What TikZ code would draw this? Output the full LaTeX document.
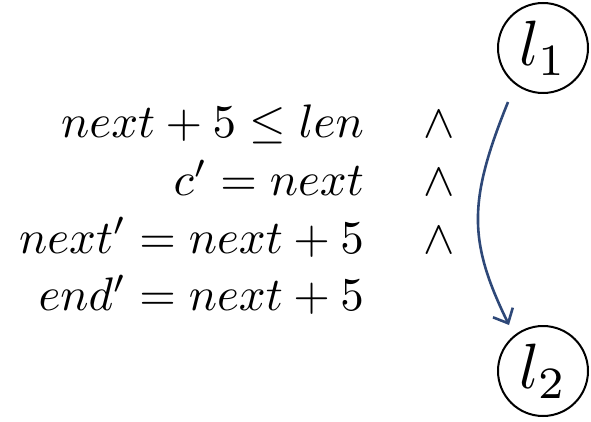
\documentclass[tikz,border=0pt]{standalone}
\usepackage{graphicx}
\usetikzlibrary{arrows.meta,calc}
\definecolor{arrowblue}{RGB}{46,72,120}
\newcommand{\bigf}[1]{\scalebox{4.7}{$#1$}}
\newcommand{\locf}[1]{\scalebox{6.4}{$#1$}}
\begin{document}
\begin{tikzpicture}[x=1pt,y=1pt,
  formula/.style={anchor=base east,inner sep=0pt},
  conj/.style={anchor=base,inner sep=0pt},
  loc/.style={circle,draw,line width=2pt,minimum size=90pt,inner sep=0pt},
  trans/.style={draw=arrowblue,line width=2.6pt,-{Straight Barb[length=12pt,width=22pt,line width=2.6pt]}}]
\useasboundingbox (0,0) rectangle (591,421);
\node[loc] (l1) at (543,373) {\locf{l_1}};
\node[loc] (l2) at (543,50) {\locf{l_2}};
\node[formula] (r1) at (364,283) {\bigf{next+5\le len}};
\node[formula] (r2) at (364,225.5) {\bigf{c'=next}};
\node[formula] (r3) at (364,168) {\bigf{next'=next+5}};
\node[formula] (r4) at (364,110.5) {\bigf{end'=next+5}};
\node[conj] (a1) at (439,283) {\bigf{\wedge}};
\node[conj] (a2) at (439,225.5) {\bigf{\wedge}};
\node[conj] (a3) at (439,168) {\bigf{\wedge}};
\coordinate (s) at ($(l1)+(-35,-54)$);
\coordinate (e) at ($(l2)+(-34,46)$);
\draw[trans] (s) .. controls (468,220) and (468,180) .. (e);
\end{tikzpicture}
\end{document}
